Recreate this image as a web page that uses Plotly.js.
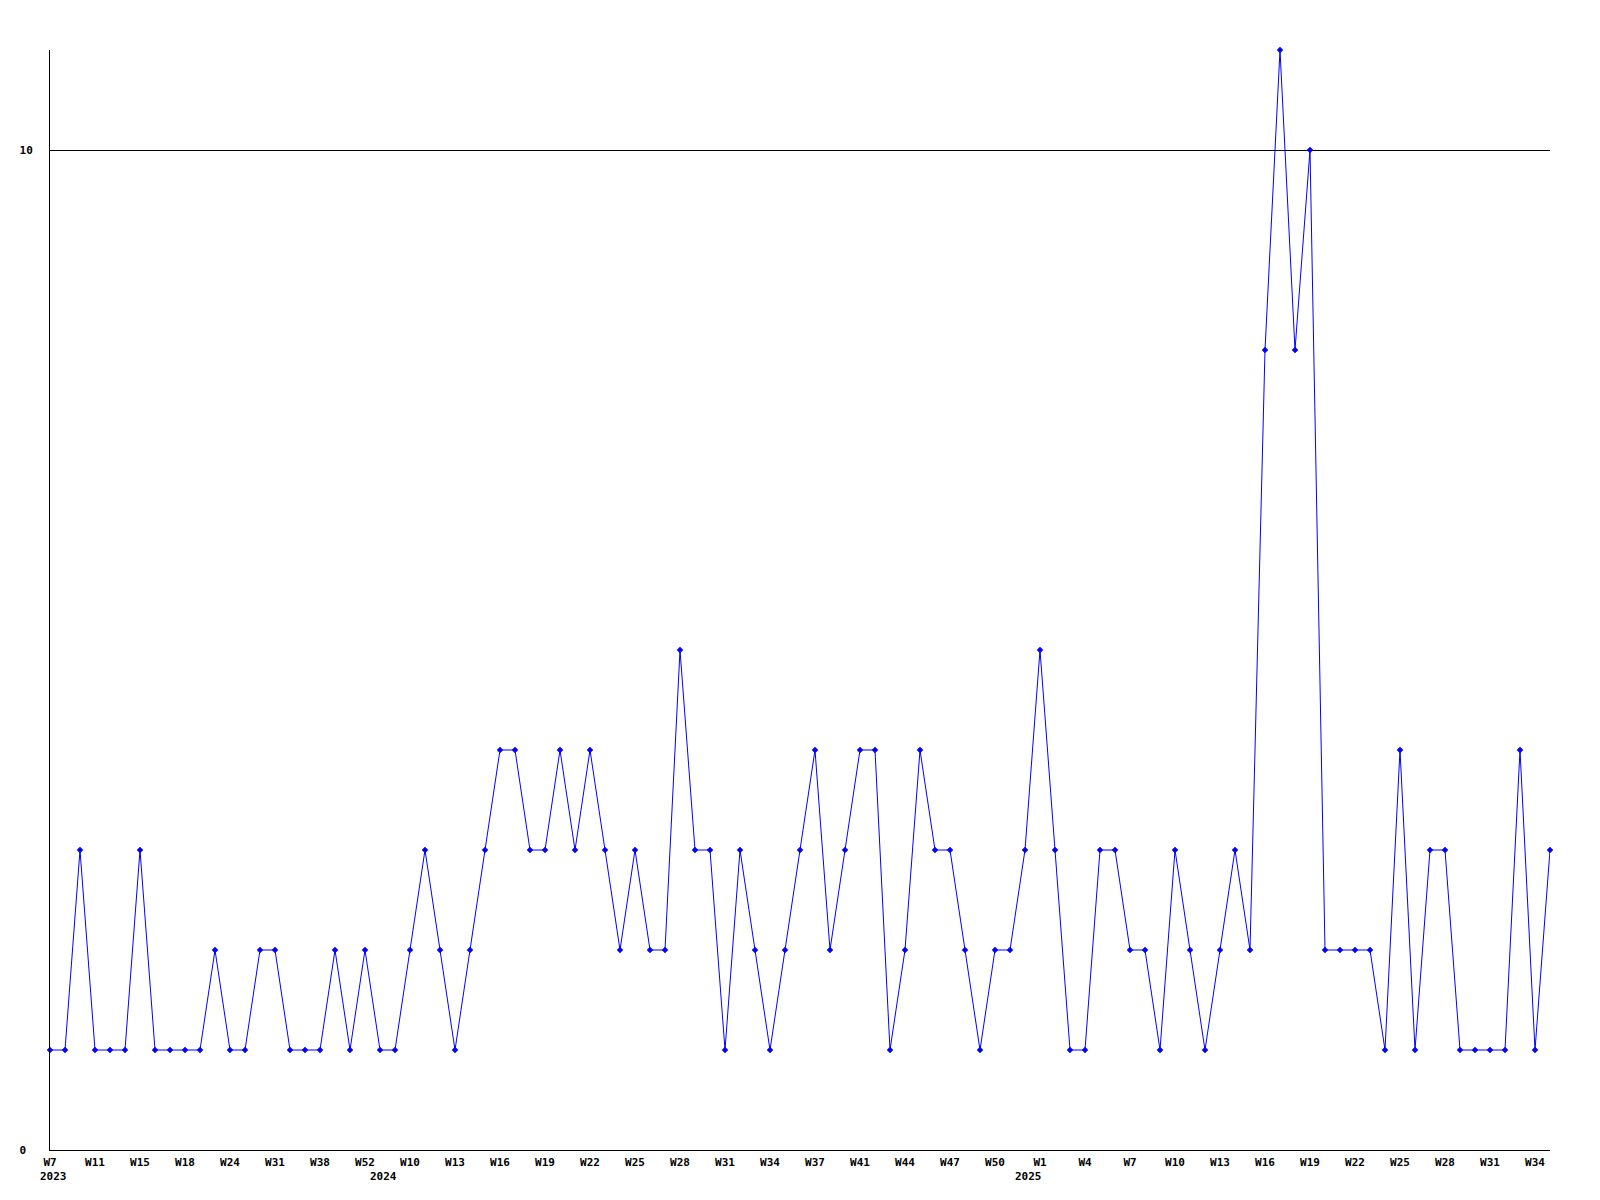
<!DOCTYPE html>
<html>
<head>
<meta charset="utf-8">
<script src="https://cdn.plot.ly/plotly-3.0.1.min.js"></script>
<style>
  html, body { margin: 0; padding: 0; background: #ffffff; }
  #chart { width: 1600px; height: 1200px; }
</style>
</head>
<body>
<div id="chart"></div>
<script>
// Weekly counts (101 points, W7 2023 .. W35 2025)
const values = [
  1, 1, 3, 1, 1, 1, 3, 1, 1, 1,
  1, 2, 1, 1, 2, 2, 1, 1, 1, 2,
  1, 2, 1, 1, 2, 3, 2, 1, 2, 3,
  4, 4, 3, 3, 4, 3, 4, 3, 2, 3,
  2, 2, 5, 3, 3, 1, 3, 2, 1, 2,
  3, 4, 2, 3, 4, 4, 1, 2, 4, 3,
  3, 2, 1, 2, 2, 3, 5, 3, 1, 1,
  3, 3, 2, 2, 1, 3, 2, 1, 2, 3,
  2, 8, 11, 8, 10, 2, 2, 2, 2, 1,
  4, 1, 3, 3, 1, 1, 1, 1, 4, 1,
  3
];

// x tick labels, one every third point
const xTickLabels = [
  'W7', 'W11', 'W15', 'W18', 'W24', 'W31', 'W38', 'W52', 'W10', 'W13',
  'W16', 'W19', 'W22', 'W25', 'W28', 'W31', 'W34', 'W37', 'W41', 'W44',
  'W47', 'W50', 'W1', 'W4', 'W7', 'W10', 'W13', 'W16', 'W19', 'W22',
  'W25', 'W28', 'W31', 'W34'
];
const tickEvery = 3;

// year labels and the point position (index) they sit under
const yearLabels = ['2023', '2024', '2025'];
const yearPositions = [0.2, 22.2, 65.2];

// y axis ticks
const yTickValues = [0, 10];
const yTickLabels = ['0', '10'];

const xIdx = values.map((_, i) => i);
const tickVals = xTickLabels.map((_, k) => k * tickEvery);

const tickFont = { family: 'DejaVu Sans Mono', size: 11, color: '#000000', weight: 'bold' };

const trace = {
  type: 'scatter',
  mode: 'lines+markers',
  x: xIdx,
  y: values,
  line: { color: '#0000ff', width: 1 },
  marker: { color: '#0000ff', size: 5, symbol: 'diamond' },
  hoverinfo: 'skip',
  cliponaxis: false
};

const annotations = yearLabels.map((t, k) => ({
  text: t,
  x: yearPositions[k],
  xref: 'x',
  y: -0.0245,
  yref: 'paper',
  xanchor: 'center',
  yanchor: 'middle',
  showarrow: false,
  font: tickFont
}));

const maxLen = Math.max(...yTickLabels.map(s => s.length));

const layout = {
  width: 1600,
  height: 1200,
  margin: { l: 50, r: 50, t: 50, b: 50, pad: 0 },
  paper_bgcolor: '#ffffff',
  plot_bgcolor: '#ffffff',
  showlegend: false,
  xaxis: {
    range: [0, values.length - 1],
    tickmode: 'array',
    tickvals: tickVals,
    ticktext: xTickLabels,
    ticks: '',
    showgrid: false,
    zeroline: false,
    showline: true,
    linecolor: '#000000',
    linewidth: 1,
    tickfont: tickFont,
    ticklabelstandoff: 2,
    fixedrange: true
  },
  yaxis: {
    range: [0, 11],
    tickmode: 'array',
    tickvals: yTickValues,
    ticktext: yTickLabels.map(s => s + '\u00a0'.repeat(maxLen - s.length)),
    ticks: '',
    showgrid: true,
    gridcolor: '#000000',
    gridwidth: 1,
    zeroline: false,
    showline: true,
    linecolor: '#000000',
    linewidth: 1,
    tickfont: tickFont,
    ticklabelstandoff: 14,
    fixedrange: true
  },
  annotations: annotations
};

Plotly.newPlot('chart', [trace], layout, { displayModeBar: false, staticPlot: true });
</script>
</body>
</html>
